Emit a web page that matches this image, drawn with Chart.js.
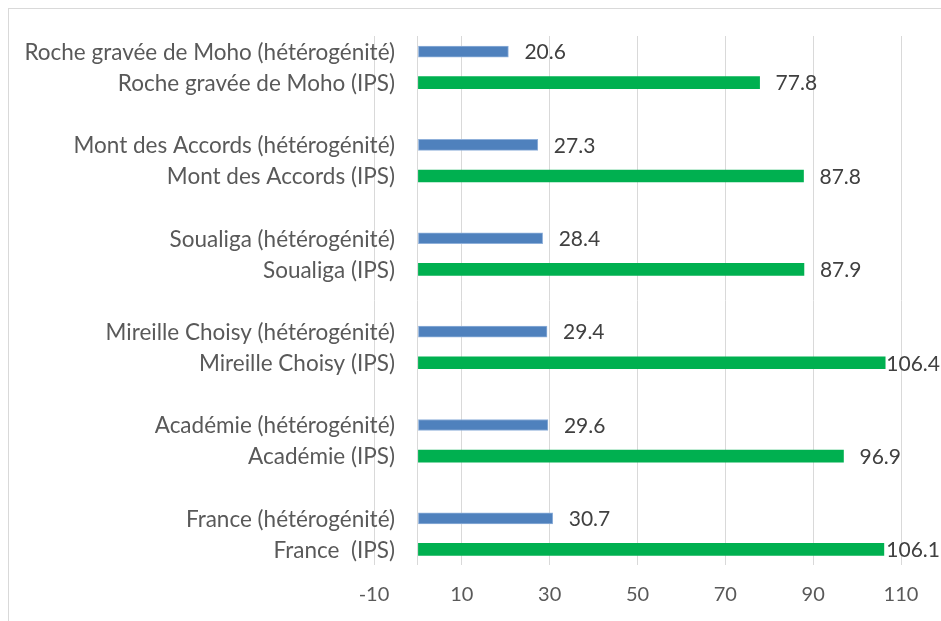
<!DOCTYPE html>
<html>
<head>
<meta charset="utf-8">
<script src="https://cdn.jsdelivr.net/npm/chart.js@4"></script>
<style>
  html, body { margin: 0; padding: 0; background: #fff; overflow: hidden; }
  #frame { position: absolute; left: 8px; top: 8px; width: 1200px; height: 1200px; border: 1px solid #d9d9d9; }
  #wrap { position: absolute; left: 0; top: 0; width: 941px; height: 621px; }
</style>
</head>
<body>
<div id="frame"></div>
<div id="wrap"><canvas id="chart"></canvas></div>
<script>
// Categories top to bottom, blank rows separate the pairs
const categories = [
  'Roche gravée de Moho (hétérogénité)', 'Roche gravée de Moho (IPS)', '',
  'Mont des Accords (hétérogénité)', 'Mont des Accords (IPS)', '',
  'Soualiga (hétérogénité)', 'Soualiga (IPS)', '',
  'Mireille Choisy (hétérogénité)', 'Mireille Choisy (IPS)', '',
  'Académie (hétérogénité)', 'Académie (IPS)', '',
  'France (hétérogénité)', 'France  (IPS)',
];
// one value per site, same order as above
const heterogeneite = [20.6, 27.3, 28.4, 29.4, 29.6, 30.7];
const ips = [77.8, 87.8, 87.9, 106.4, 96.9, 106.1];
const xMin = -10;
const xMax = 110;
const xStep = 20;

const BLUE = '#4f81bd';
const GREEN = '#00b050';
const GRID = '#d9d9d9';
const FONT = 'Lato';

function spread(values, offset) {
  const out = categories.map(() => null);
  values.forEach((v, i) => { out[i * 3 + offset] = v; });
  return out;
}

// category labels overlap the plot a bit, so draw them by hand (no clipping)
const categoryLabels = {
  id: 'categoryLabels',
  afterDraw(chart) {
    const ctx = chart.ctx;
    const y = chart.scales.y;
    ctx.save();
    ctx.font = '22.5px ' + FONT;
    ctx.fillStyle = '#595959';
    ctx.textAlign = 'right';
    ctx.textBaseline = 'middle';
    chart.data.labels.forEach((lbl, i) => {
      if (!lbl) return;
      ctx.fillText(lbl, 395, y.getPixelForValue(i) + 1);
    });
    ctx.restore();
  }
};

const valueLabels = {
  id: 'valueLabels',
  afterDatasetsDraw(chart) {
    const ctx = chart.ctx;
    ctx.save();
    ctx.font = '21px ' + FONT;
    ctx.fillStyle = '#404040';
    ctx.textBaseline = 'middle';
    ctx.textAlign = 'left';
    chart.data.datasets.forEach((ds, di) => {
      const meta = chart.getDatasetMeta(di);
      ds.data.forEach((v, i) => {
        if (v == null) return;
        const bar = meta.data[i];
        const txt = v.toFixed(1);
        const w = ctx.measureText(txt).width;
        const x = Math.min(bar.x + 16, chart.width - 1 - w);
        ctx.fillText(txt, x, bar.y + 1);
      });
    });
    ctx.restore();
  }
};

new Chart(document.getElementById('chart').getContext('2d'), {
  type: 'bar',
  data: {
    labels: categories,
    datasets: [{
      label: 'hétérogénité',
      data: spread(heterogeneite, 0),
      backgroundColor: BLUE,
      borderColor: '#8fb0da',
      borderWidth: 1,
      borderSkipped: false,
      barThickness: 11,
      grouped: false,
    }, {
      label: 'IPS',
      data: spread(ips, 1),
      backgroundColor: GREEN,
      borderWidth: 0,
      barThickness: 12,
      grouped: false,
    }],
  },
  options: {
    indexAxis: 'y',
    responsive: true,
    maintainAspectRatio: false,
    animation: false,
    layout: { padding: { top: 36, right: 40, left: 0, bottom: 0 } },
    plugins: { legend: { display: false }, tooltip: { enabled: false } },
    scales: {
      x: {
        min: xMin,
        max: xMax,
        afterBuildTicks(scale) {
          const ticks = [];
          for (let v = xMin; v <= xMax; v += xStep) ticks.push({ value: v });
          ticks.push({ value: 0 });
          ticks.sort((a, b) => a.value - b.value);
          scale.ticks = ticks;
        },
        afterFit(scale) { scale.height = 56; },
        grid: { color: GRID, lineWidth: 1, drawTicks: false },
        border: { display: false },
        ticks: {
          autoSkip: false,
          maxRotation: 0,
          padding: 18,
          color: '#595959',
          font: { family: FONT, size: 20 },
          callback: (v) => (v === 0 ? '' : v),
        },
      },
      y: {
        afterFit(scale) { scale.width = 374; },
        grid: { display: false, drawTicks: false },
        border: { display: false },
        ticks: { display: false, autoSkip: false },
      },
    },
  },
  plugins: [categoryLabels, valueLabels],
});
</script>
</body>
</html>
